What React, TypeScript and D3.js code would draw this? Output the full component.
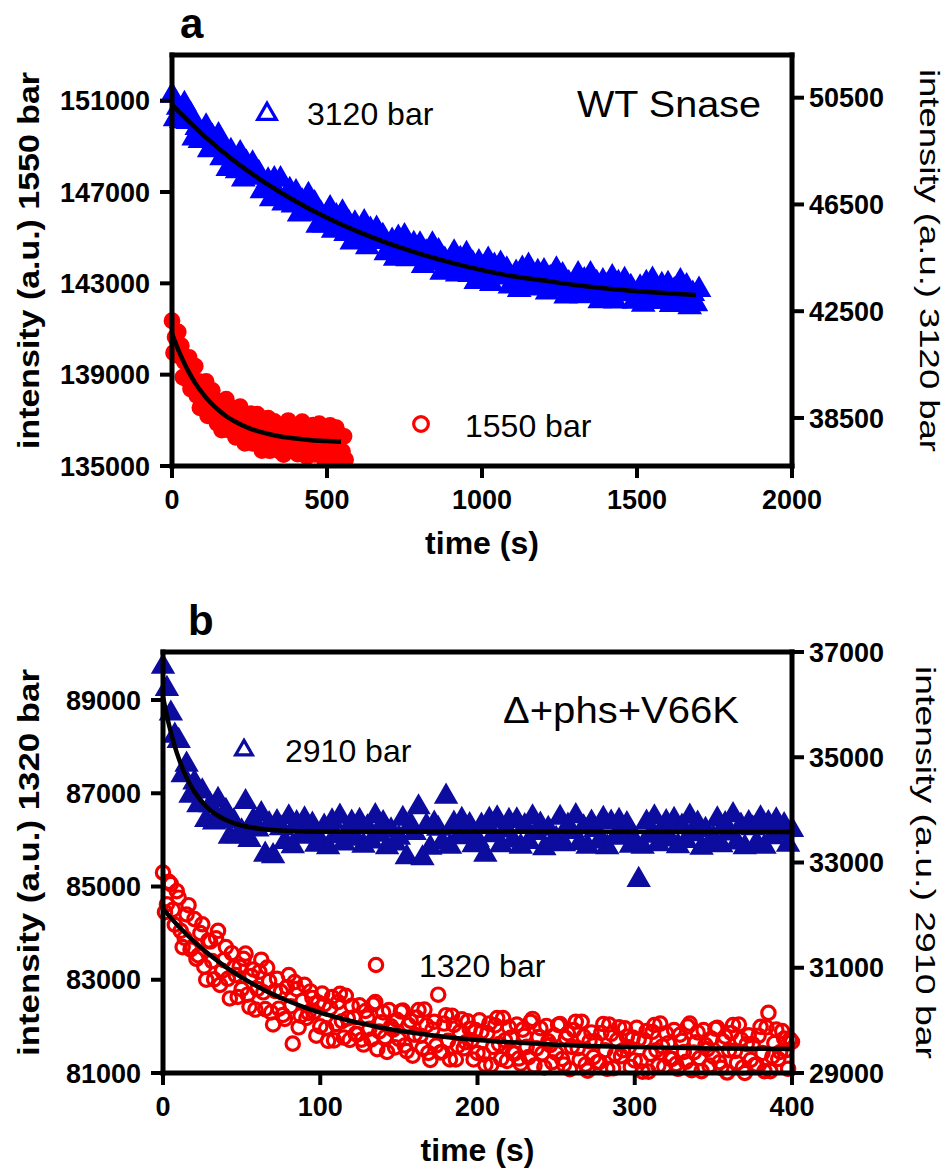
import React, { useEffect, useRef } from 'react';
import * as d3 from 'd3';

const FONT = '"Liberation Sans", Arial, Helvetica, sans-serif';

// ---------- panel a : WT Snase ----------
// 3120 bar trace (right axis), one sample every 10 s
const wtStep3120 = 10;
const wt3120 = [
  50580, 49700, 50130, 49630, 50260, 49590, 49860, 48980, 49370, 48880,
  48960, 49420, 48540, 49040, 48690, 49090, 48240, 48600, 47830, 48500,
  48230, 47750, 48420, 47440, 48060, 47570, 48030, 47510, 47680, 47000,
  47060, 47400, 46700, 47440, 46920, 47440, 46540, 46840, 47040, 46470,
  46960, 46130, 46610, 46170, 46850, 46230, 46540, 45710, 46160, 45720,
  45850, 46360, 45520, 46060, 45760, 46200, 45400, 45810, 45080, 45790,
  45570, 45130, 45830, 44900, 45550, 45100, 45590, 45110, 45320, 44680,
  44770, 45140, 44470, 45250, 44760, 45310, 44450, 44780, 45020, 44480,
  45000, 44200, 44700, 44290, 45000, 44410, 44750, 43950, 44430, 44010,
  44170, 44700, 43880, 44460, 44180, 44640, 43860, 44290, 43600, 44330,
  44130, 43710, 44430, 43520, 44200, 43770, 44280, 43820, 44060, 43430,
  43550, 43940, 43300, 44090, 43630, 44200, 43360, 43720, 43970, 43460,
  44000, 43210, 43740, 43340, 44060, 43490, 43850, 43060, 43550, 43160,
  43330, 43880, 43070, 43660, 43400, 43880, 43110, 43560, 42880, 43620,
  43440, 43030, 43770, 42870, 43560, 43140, 43670, 43220, 43410, 42860,
  42990, 43390, 42750, 43560, 43100, 43680, 42850, 43210, 43480, 42970,
  43520, 42740, 43280, 42890, 43620, 43060, 43430, 42650, 43150, 42770, 43300,
];
// 1550 bar trace (left axis), one sample every 5 s
const wtStep1550 = 5;
const wt1550 = [
  141360, 139960, 140640, 139860, 140870,
  139800, 140270, 138890, 139560, 138820,
  138980, 139760, 138370, 139220, 138700,
  139370, 138080, 138710, 137550, 138670,
  138300, 137580, 138700, 137200, 138250,
  137510, 138310, 137540, 137890, 136870,
  137030, 137630, 136570, 137820, 137050,
  137930, 136580, 137130, 137520, 136670,
  137530, 136260, 137090, 136440, 137600,
  136660, 137240, 135990, 136770, 136140,
  136410, 137290, 135990, 136930, 136500,
  137270, 136050, 136760, 135680, 136880,
  136580, 135920, 137100, 135670, 136770,
  136100, 136950, 136230, 136640, 135670,
  135870, 136520, 135500, 136790, 136060,
  136990, 135670, 136250, 136670, 135860,
  136760, 135520, 136370, 135760, 136940,
  136030, 136630, 135400, 136200, 135600,
  135890, 136790, 135510, 136470, 136060,
  136850, 135640, 136370, 135300, 136510,
  136230, 135590, 136780, 135360, 136480,
  135810, 136680, 135970, 136380, 135420,
  135640, 136300, 135280,
];
// fitted curves
const wtFitTime3120 = [0, 100, 200, 300, 400, 500, 600, 700, 800, 900, 1000, 1100, 1200, 1300, 1400, 1500, 1600, 1690];
const wtFit3120 = [50230, 49110, 48140, 47320, 46610, 46000, 45480, 45030, 44650, 44320, 44040, 43810, 43650, 43480, 43350, 43250, 43170, 43110];
const wtFitTime1550 = [0, 25, 50, 75, 100, 125, 150, 175, 200, 250, 300, 350, 400, 450, 500, 545];
const wtFit1550 = [140800, 139930, 139220, 138630, 138160, 137770, 137450, 137180, 136970, 136650, 136440, 136290, 136200, 136130, 136090, 136060];

const wtTimeTicks = [0, 500, 1000, 1500, 2000];
const wtLeftTicks = [135000, 139000, 143000, 147000, 151000];
const wtRightTicks = [38500, 42500, 46500, 50500];

// ---------- panel b : Δ+phs+V66K ----------
// 2910 bar trace (right axis), one sample every 2.5 s
const mutStep2910 = 2.5;
const mut2910 = [
  36720, 36300, 35830, 35410, 35310, 34660, 34860, 34270, 34520, 34090,
  34350, 33810, 34090, 33760, 34190, 33790, 33980, 33490, 33780, 33500,
  33590, 34150, 33430, 33800, 33630, 33920, 33150, 33730, 33120, 33770,
  33650, 33390, 33860, 33310, 33750, 33490, 33820, 33550, 33720, 33340,
  33410, 33680, 33290, 33780, 33500, 33870, 33360, 33590, 33760, 33450,
  33790, 33320, 33670, 33400, 33880, 33530, 33750, 33290, 33610, 33360,
  33470, 33830, 33100, 33720, 33560, 34050, 33080, 33690, 33280, 33740,
  33640, 33380, 34250, 33300, 33740, 33480, 33810, 33540, 33710, 33330,
  33430, 33700, 33150, 33810, 33520, 33840, 33330, 33610, 33790, 33420,
  33800, 33300, 33690, 33390, 33860, 33560, 33720, 33270, 33640, 33380,
  33450, 33850, 33350, 33700, 33580, 33880, 33370, 33670, 33300, 33760,
  33620, 33400, 33830, 33290, 33760, 33470, 33790, 33530, 33730, 33320,
  33400, 32670, 33300, 33760, 33510, 33860, 33350, 33600, 33770, 33440,
  33810, 33310, 33680, 33410, 33870, 33540, 33740, 33280, 33620, 33370,
  33460, 33820, 33330, 33730, 33550, 33900, 33380, 33700, 33290, 33750,
  33650, 33370, 33840, 33300, 33750, 33480, 33800, 33550, 33710, 33340, 33620,
];
// 1320 bar trace (left axis), one sample every 1.25 s
const mutStep1320 = 1.25;
const mut1320 = [
  85300, 84450, 84620, 85100, 85050, 84500, 84180, 84900, 84760, 84050, 83700, 83900, 84400, 84600, 83650, 83700, 84300, 83450, 83520, 84000,
  84190, 83280, 83000, 83840, 83820, 83400, 83010, 83890, 84050, 82890, 83190, 83420, 83700, 83020, 82600, 83570, 83260, 83100, 82630, 83280,
  82800, 83450, 83560, 82680, 82420, 83080, 83220, 82360, 82800, 83170, 83430, 82730, 82370, 83260, 82970, 82300, 82040, 82760, 83020, 82380,
  82740, 82245, 82160, 82840, 83100, 82430, 81630, 82950, 82800, 81980, 82230, 82550, 82890, 82180, 82290, 82750, 82610, 82310, 81800, 82510,
  82000, 82705, 82470, 81960, 81690, 82390, 82630, 81700, 82050, 82520, 82700, 82110, 81760, 82655, 82170, 81710, 82440, 82190, 81840, 81830,
  82450, 81715, 81610, 82330, 82190, 81950, 81720, 82470, 82520, 81510, 81890, 82090, 82300, 81770, 81450, 82350, 82000, 81930, 81550, 82140,
  81730, 82320, 82340, 81590, 81470, 82030, 82120, 81370, 81820, 82190, 82350, 81800, 81530, 82360, 82020, 81430, 81280, 81930, 82100, 81590,
  82680, 81440, 81450, 82060, 82240, 81690, 81290, 82230, 82030, 81290, 81580, 81880, 82150, 81530, 81660, 82110, 81950, 81700, 81290, 81920,
  81430, 82130, 81880, 81400, 81180, 81850, 82060, 81170, 81560, 82020, 82180, 81620, 81300, 82180, 81700, 81260, 81980, 81760, 81430, 81420,
  82040, 81310, 81200, 81930, 81800, 81560, 81340, 82100, 82160, 81160, 81530, 81770, 81960, 81420, 81120, 82010, 81680, 81600, 81230, 81810,
  81430, 82030, 82050, 81300, 81180, 81750, 81850, 81080, 81560, 81920, 82100, 81530, 81280, 82100, 81780, 81180, 81050, 81680, 81870, 81340,
  81680, 81230, 81240, 81860, 82050, 81490, 81090, 82040, 81840, 81100, 81400, 81700, 81980, 81360, 81490, 81960, 81780, 81550, 81130, 81760,
  81270, 81970, 81720, 81250, 81030, 81700, 81900, 81030, 81410, 81880, 82030, 81490, 81160, 82060, 81570, 81140, 81850, 81640, 81310, 81300,
  81920, 81190, 81090, 81820, 81690, 81450, 81240, 82000, 82060, 81060, 81440, 81660, 81870, 81320, 81040, 81920, 81600, 81510, 81160, 81740,
  81350, 81950, 81970, 81230, 81110, 81680, 81780, 81010, 81490, 81860, 82030, 81470, 81220, 82040, 81720, 81120, 81000, 81620, 81810, 81280,
  81620, 81170, 81180, 81800, 81990, 81430, 81040, 81980, 82290, 81040, 81350, 81640, 81930, 81300, 81450, 81900, 81740, 81490, 81090, 81720, 81670,
];
const mutFitTime2910 = [0, 2.5, 5, 7.5, 10, 12.5, 15, 17.5, 20, 22.5, 25, 30, 35, 40, 45, 50, 60, 70, 80, 100, 400];
const mutFit2910 = [36145, 35784, 35475, 35208, 34979, 34783, 34613, 34468, 34343, 34236, 34144, 33996, 33888, 33807, 33748, 33704, 33648, 33617, 33600, 33586, 33580];
const mutFitTime1320 = [0, 10, 20, 30, 40, 50, 60, 70, 80, 90, 100, 120, 140, 160, 180, 200, 250, 300, 350, 400];
const mutFit1320 = [84520, 84143, 83813, 83524, 83272, 83050, 82857, 82687, 82539, 82410, 82296, 82110, 81967, 81858, 81774, 81710, 81608, 81555, 81528, 81515];

const mutTimeTicks = [0, 100, 200, 300, 400];
const mutLeftTicks = [81000, 83000, 85000, 87000, 89000];
const mutRightTicks = [29000, 31000, 33000, 35000, 37000];

type Sel = d3.Selection<SVGSVGElement, unknown, null, undefined>;

interface Series {
  values: number[]; step: number; axis: 'left' | 'right'; shape: 'tri' | 'circle';
  color: string; size: number; sw: number; filled: boolean;
}

interface Panel {
  left: number; right: number; top: number; bottom: number;
  xDomain: [number, number]; xTicks: number[];
  yLeft: [number, number]; leftTicks: number[];
  yRight: [number, number]; rightTicks: number[];
  letter: string; letterX: number; letterY: number;
  leftTitle: string; rightTitle: string; rightTitleX: number;
  titleLen: number;
  series: Series[];
  fits: { t: number[]; v: number[]; axis: 'left' | 'right' }[];
  legend: { shape: 'tri' | 'circle'; color: string; mx: number; my: number; label: string; tx: number; ty: number; size: number }[];
  note: { text: string; x: number; y: number; size: number; len: number };
}

function marker(g: d3.Selection<SVGGElement, unknown, null, undefined>, shape: string, x: number, y: number, color: string, size: number, sw: number, filled = false) {
  const m = shape === 'tri'
    ? g.append('path')
      .attr('d', d3.symbol().type(d3.symbolTriangle).size(size)())
      .attr('transform', `translate(${x},${y})`)
    : g.append('circle')
      .attr('cx', x).attr('cy', y)
      .attr('r', Math.sqrt(size / Math.PI));
  m.attr('fill', filled ? color : 'none')
    .attr('stroke', color)
    .attr('stroke-width', sw);
}

function drawPanel(svg: Sel, p: Panel) {
  const x = d3.scaleLinear().domain(p.xDomain).range([p.left, p.right]);
  const yL = d3.scaleLinear().domain(p.yLeft).range([p.bottom, p.top]);
  const yR = d3.scaleLinear().domain(p.yRight).range([p.bottom, p.top]);
  const g = svg.append('g');

  // data markers
  p.series.forEach((s) => {
    const y = s.axis === 'left' ? yL : yR;
    const sg = g.append('g');
    s.values.forEach((v, i) => {
      marker(sg, s.shape, x(i * s.step), y(v), s.color, s.size, s.sw, s.filled);
    });
  });

  // fitted curves
  p.fits.forEach((f) => {
    const y = f.axis === 'left' ? yL : yR;
    const line = d3.line<number>()
      .x((_, i) => x(f.t[i]))
      .y((d) => y(d))
      .curve(d3.curveMonotoneX);
    g.append('path')
      .attr('d', line(f.v))
      .attr('fill', 'none')
      .attr('stroke', '#000')
      .attr('stroke-width', 4.5);
  });

  // frame
  const frame = g.append('g').attr('stroke', '#000').attr('stroke-width', 5).attr('stroke-linecap', 'square');
  frame.append('line').attr('x1', p.left).attr('x2', p.right).attr('y1', p.top).attr('y2', p.top);
  frame.append('line').attr('x1', p.left).attr('x2', p.right).attr('y1', p.bottom).attr('y2', p.bottom);
  frame.append('line').attr('x1', p.left).attr('x2', p.left).attr('y1', p.top).attr('y2', p.bottom);
  frame.append('line').attr('x1', p.right).attr('x2', p.right).attr('y1', p.top).attr('y2', p.bottom);

  const ticks = g.append('g').attr('stroke', '#000').attr('stroke-width', 4);
  const labels = g.append('g')
    .attr('font-family', FONT).attr('font-weight', 'bold').attr('font-size', 27).attr('fill', '#000');

  p.xTicks.forEach((t) => {
    ticks.append('line').attr('x1', x(t)).attr('x2', x(t)).attr('y1', p.bottom).attr('y2', p.bottom + 12);
    labels.append('text').attr('x', x(t)).attr('y', p.bottom + 43).attr('text-anchor', 'middle').text(t);
  });
  p.leftTicks.forEach((t) => {
    ticks.append('line').attr('x1', p.left - 12).attr('x2', p.left).attr('y1', yL(t)).attr('y2', yL(t));
    labels.append('text').attr('x', p.left - 22).attr('y', yL(t)).attr('dy', '0.36em').attr('text-anchor', 'end').text(t);
  });
  p.rightTicks.forEach((t) => {
    ticks.append('line').attr('x1', p.right).attr('x2', p.right + 12).attr('y1', yR(t)).attr('y2', yR(t));
    labels.append('text').attr('x', p.right + 17).attr('y', yR(t)).attr('dy', '0.36em').attr('text-anchor', 'start').text(t);
  });

  // axis titles
  const cy = (p.top + p.bottom) / 2;
  g.append('text')
    .attr('transform', `translate(39,${cy}) rotate(-90)`)
    .attr('text-anchor', 'middle')
    .attr('font-family', FONT).attr('font-weight', 'bold').attr('font-size', 30)
    .attr('textLength', p.titleLen).attr('lengthAdjust', 'spacingAndGlyphs')
    .text(p.leftTitle);
  g.append('text')
    .attr('transform', `translate(${p.rightTitleX},${cy}) rotate(90)`)
    .attr('text-anchor', 'middle')
    .attr('font-family', FONT).attr('font-size', 28)
    .attr('textLength', p.titleLen + 6).attr('lengthAdjust', 'spacingAndGlyphs')
    .text(p.rightTitle);
  g.append('text')
    .attr('x', (p.left + p.right) / 2).attr('y', p.bottom + 88)
    .attr('text-anchor', 'middle')
    .attr('font-family', FONT).attr('font-weight', 'bold').attr('font-size', 32)
    .text('time (s)');

  // panel letter
  g.append('text')
    .attr('x', p.letterX).attr('y', p.letterY)
    .attr('font-family', FONT).attr('font-weight', 'bold').attr('font-size', 42)
    .text(p.letter);

  // legend entries
  p.legend.forEach((l) => {
    marker(g, l.shape, l.mx, l.my, l.color, l.size, 3.2);
    g.append('text')
      .attr('x', l.tx).attr('y', l.ty)
      .attr('font-family', FONT).attr('font-size', 32)
      .text(l.label);
  });

  g.append('text')
    .attr('x', p.note.x).attr('y', p.note.y)
    .attr('font-family', FONT).attr('font-size', p.note.size)
    .attr('textLength', p.note.len).attr('lengthAdjust', 'spacingAndGlyphs')
    .text(p.note.text);
}

const App = () => {
  const ref = useRef<SVGSVGElement>(null);

  useEffect(() => {
    const svg = d3.select(ref.current as SVGSVGElement) as Sel;
    svg.selectAll('*').remove();

    drawPanel(svg, {
      left: 172, right: 792, top: 55, bottom: 466,
      xDomain: [0, 2000], xTicks: wtTimeTicks,
      yLeft: [135000, 153000], leftTicks: wtLeftTicks,
      yRight: [36700, 52100], rightTicks: wtRightTicks,
      letter: 'a', letterX: 180, letterY: 38,
      leftTitle: 'intensity (a.u.) 1550 bar',
      rightTitle: 'intensity (a.u.) 3120 bar',
      rightTitleX: 920, titleLen: 377,
      series: [
        { values: wt3120, step: wtStep3120, axis: 'right', shape: 'tri', color: '#0000ff', size: 165, sw: 3, filled: true },
        { values: wt1550, step: wtStep1550, axis: 'left', shape: 'circle', color: '#ff0000', size: 150, sw: 3, filled: true },
      ],
      fits: [
        { t: wtFitTime3120, v: wtFit3120, axis: 'right' },
        { t: wtFitTime1550, v: wtFit1550, axis: 'left' },
      ],
      legend: [
        { shape: 'tri', color: '#0000ff', mx: 267, my: 114, label: '3120 bar', tx: 307, ty: 125, size: 150 },
        { shape: 'circle', color: '#ff0000', mx: 421, my: 424, label: '1550 bar', tx: 465, ty: 437, size: 170 },
      ],
      note: { text: 'WT Snase', x: 577, y: 117, size: 37, len: 184 },
    });

    drawPanel(svg, {
      left: 163, right: 792, top: 652, bottom: 1073,
      xDomain: [0, 400], xTicks: mutTimeTicks,
      yLeft: [81000, 90030], leftTicks: mutLeftTicks,
      yRight: [29000, 37000], rightTicks: mutRightTicks,
      letter: 'b', letterX: 188, letterY: 635,
      leftTitle: 'intensity (a.u.) 1320 bar',
      rightTitle: 'intensity (a.u.) 2910 bar',
      rightTitleX: 916, titleLen: 387,
      series: [
        { values: mut2910, step: mutStep2910, axis: 'right', shape: 'tri', color: '#0c0c9e', size: 160, sw: 3, filled: true },
        { values: mut1320, step: mutStep1320, axis: 'left', shape: 'circle', color: '#f20000', size: 140, sw: 3.2, filled: false },
      ],
      fits: [
        { t: mutFitTime2910, v: mutFit2910, axis: 'right' },
        { t: mutFitTime1320, v: mutFit1320, axis: 'left' },
      ],
      legend: [
        { shape: 'tri', color: '#0c0c9e', mx: 244, my: 750, label: '2910 bar', tx: 285, ty: 762, size: 120 },
        { shape: 'circle', color: '#f20000', mx: 376, my: 965, label: '1320 bar', tx: 419, ty: 977, size: 140 },
      ],
      note: { text: 'Δ+phs+V66K', x: 503, y: 723, size: 37, len: 236 },
    });
  }, []);

  return (
    <svg
      ref={ref}
      width={950}
      height={1171}
      style={{ position: 'absolute', left: 0, top: 0, background: '#fff' }}
    />
  );
};

export default App;
